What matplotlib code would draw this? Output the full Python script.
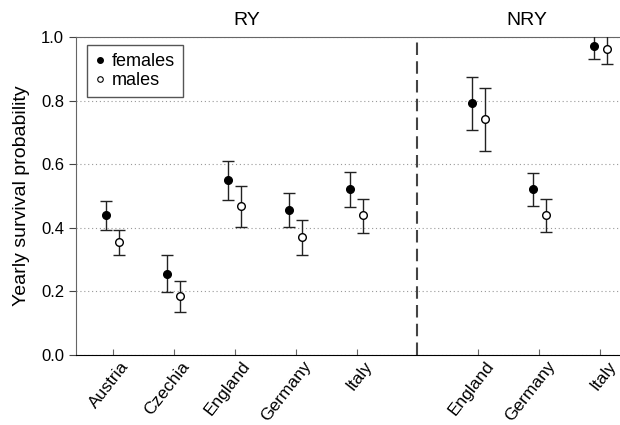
import numpy as np
import matplotlib.pyplot as plt
import matplotlib.transforms as mtransforms
from matplotlib.lines import Line2D

plt.rcParams['font.family'] = ['Liberation Sans', 'DejaVu Sans']

# RY countries then NRY countries
countries = ['Austria', 'Czechia', 'England', 'Germany', 'Italy',
             'England', 'Germany', 'Italy']
xpos = [1, 2, 3, 4, 5, 7, 8, 9]

fem_est = [0.439, 0.256, 0.550, 0.455, 0.521, 0.792, 0.521, 0.971]
fem_lo = [0.392, 0.199, 0.487, 0.401, 0.465, 0.706, 0.470, 0.932]
fem_hi = [0.483, 0.313, 0.609, 0.509, 0.576, 0.874, 0.572, 1.01]

mal_est = [0.354, 0.184, 0.468, 0.371, 0.440, 0.742, 0.440, 0.962]
mal_lo = [0.313, 0.134, 0.402, 0.316, 0.385, 0.642, 0.387, 0.914]
mal_hi = [0.393, 0.233, 0.532, 0.424, 0.492, 0.839, 0.489, 1.01]

W, H = 620, 425
fig = plt.figure(figsize=(W/100, H/100), dpi=100)
# axes runs a bit past the right edge like the original
ax = fig.add_axes([76/W, 1-355/H, (637-76)/W, (355-37)/H])

x = np.array(xpos)
fe = np.array(fem_est); me = np.array(mal_est)
ax.errorbar(x-0.1, fe, yerr=[fe-np.array(fem_lo), np.array(fem_hi)-fe],
            fmt='o', color='black', ecolor='#222222', elinewidth=1,
            capsize=4.5, capthick=1, markersize=5.5, zorder=3)
ax.errorbar(x+0.1, me, yerr=[me-np.array(mal_lo), np.array(mal_hi)-me],
            fmt='o', color='black', mfc='white', mec='black', mew=1,
            ecolor='#222222', elinewidth=1, capsize=4.5, capthick=1,
            markersize=5.5, zorder=3)

ax.axvline(6, color='#444444', ls=(0, (6, 3)), lw=1.5, zorder=2)

ax.set_xlim(0.4, 9.6)
ax.set_ylim(0, 1.0)
ax.set_yticks(np.arange(0, 1.01, 0.2))
ax.set_yticklabels(['%.1f' % v for v in np.arange(0, 1.01, 0.2)], fontsize=12)
ax.set_xticks(xpos)
ax.set_xticklabels(countries, rotation=52, ha='right', va='top',
                   rotation_mode='anchor', fontsize=12.5)
ax.tick_params(axis='x', direction='in', length=4, color='#666666', pad=2.5)
ax.tick_params(axis='y', direction='out', length=5, color='#444444')
# nudge the rotated labels right so their ends sit past the ticks
shift = mtransforms.ScaledTranslation(7/100, 0, fig.dpi_scale_trans)
for lab in ax.get_xticklabels():
    lab.set_transform(lab.get_transform() + shift)
ax.yaxis.grid(True, ls=(0, (1, 2.5)), color='#999999', lw=0.8)
ax.set_axisbelow(True)
ax.spines['right'].set_visible(False)
ax.spines['left'].set_color('#666666')
ax.spines['top'].set_color('#666666')
ax.set_ylabel('Yearly survival probability', fontsize=14, labelpad=8)

ax.text(3.2, 1.025, 'RY', ha='center', va='bottom', fontsize=14)
ax.text(7.8, 1.025, 'NRY', ha='center', va='bottom', fontsize=14)

handles = [Line2D([], [], ls='none', marker='o', color='black', ms=4),
           Line2D([], [], ls='none', marker='o', mfc='white', mec='black',
                  mew=0.8, ms=4)]
leg = ax.legend(handles, ['females', 'males'], loc='upper left', fontsize=13,
                handlelength=0.5, handletextpad=0.4, borderpad=0.45,
                labelspacing=0.1, fancybox=False, framealpha=1,
                borderaxespad=0, bbox_to_anchor=(0.02, 0.975))
leg.get_frame().set_edgecolor('#555555')

fig.savefig('out.png', dpi=100)
